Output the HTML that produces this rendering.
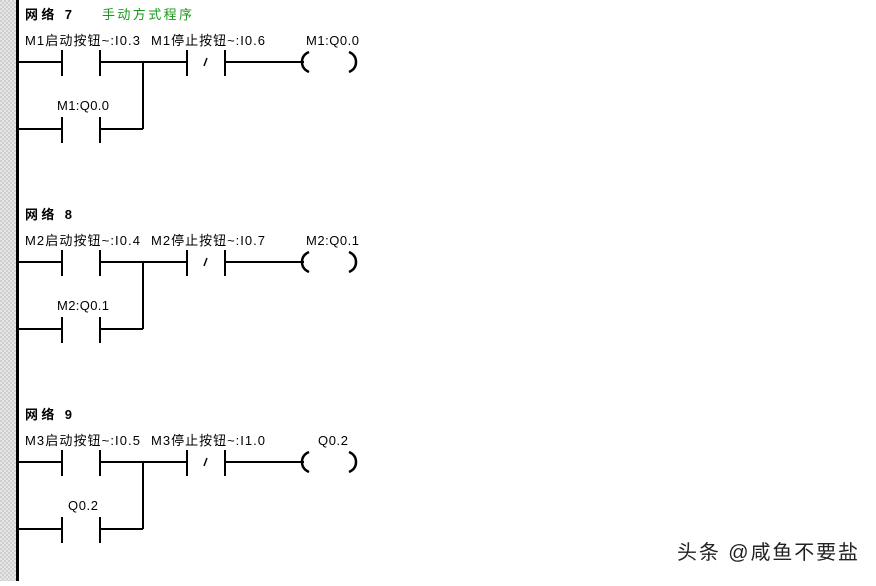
<!DOCTYPE html>
<html><head><meta charset="utf-8"><style>
body{margin:0;width:876px;height:581px;overflow:hidden;background:#fff}
text{font-family:"Liberation Sans","Noto Sans CJK SC",sans-serif;font-size:13px;fill:#000}
</style></head><body>
<svg width="876" height="581" xmlns="http://www.w3.org/2000/svg">
<defs>
<pattern id="hp" width="4" height="4" patternUnits="userSpaceOnUse">
<rect width="4" height="4" fill="#e6e6e6"/><rect width="2" height="2" fill="#cfcfcf"/><rect x="2" y="2" width="2" height="2" fill="#cfcfcf"/>
</pattern>
<g id="net" stroke="#000" stroke-width="2" fill="none">
<line x1="18" y1="62" x2="62" y2="62"/>
<line x1="62" y1="50" x2="62" y2="76"/>
<line x1="100" y1="50" x2="100" y2="76"/>
<line x1="100" y1="62" x2="187" y2="62"/>
<line x1="143" y1="62" x2="143" y2="129"/>
<line x1="187" y1="50" x2="187" y2="76"/>
<line x1="225" y1="50" x2="225" y2="76"/>
<line x1="207" y1="58" x2="204" y2="66" stroke-width="1.5"/>
<line x1="225" y1="62" x2="304" y2="62"/>
<path d="M309 52 Q302 55 302 62 Q302 69 309 72" stroke-width="2.5"/>
<path d="M349 52 Q356 55 356 62 Q356 69 349 72" stroke-width="2.5"/>
<line x1="18" y1="129" x2="62" y2="129"/>
<line x1="62" y1="117" x2="62" y2="143"/>
<line x1="100" y1="117" x2="100" y2="143"/>
<line x1="100" y1="129" x2="143" y2="129"/>
</g>
</defs>
<rect x="0" y="0" width="16" height="581" fill="url(#hp)"/>
<rect x="16" y="0" width="3" height="581" fill="#000"/>

<use href="#net"/>
<use href="#net" y="200"/>
<use href="#net" y="400"/>

<text x="25" y="19" style="font-weight:bold" textLength="47">网络 7</text>
<text x="102" y="19" style="fill:#1a9a1a" textLength="90">手动方式程序</text>
<text x="25" y="45" textLength="115">M1启动按钮~:I0.3</text>
<text x="151" y="45" textLength="114">M1停止按钮~:I0.6</text>
<text x="306" y="45" textLength="53">M1:Q0.0</text>
<text x="57" y="110" textLength="52">M1:Q0.0</text>

<text x="25" y="219" style="font-weight:bold" textLength="47">网络 8</text>
<text x="25" y="245" textLength="115">M2启动按钮~:I0.4</text>
<text x="151" y="245" textLength="114">M2停止按钮~:I0.7</text>
<text x="306" y="245" textLength="53">M2:Q0.1</text>
<text x="57" y="310" textLength="52">M2:Q0.1</text>

<text x="25" y="419" style="font-weight:bold" textLength="47">网络 9</text>
<text x="25" y="445" textLength="115">M3启动按钮~:I0.5</text>
<text x="151" y="445" textLength="114">M3停止按钮~:I1.0</text>
<text x="318" y="445" textLength="30">Q0.2</text>
<text x="68" y="510" textLength="30">Q0.2</text>

<text x="677" y="559" style="font-size:20px;fill:#222" textLength="181">头条 @咸鱼不要盐</text>
</svg>
</body></html>
